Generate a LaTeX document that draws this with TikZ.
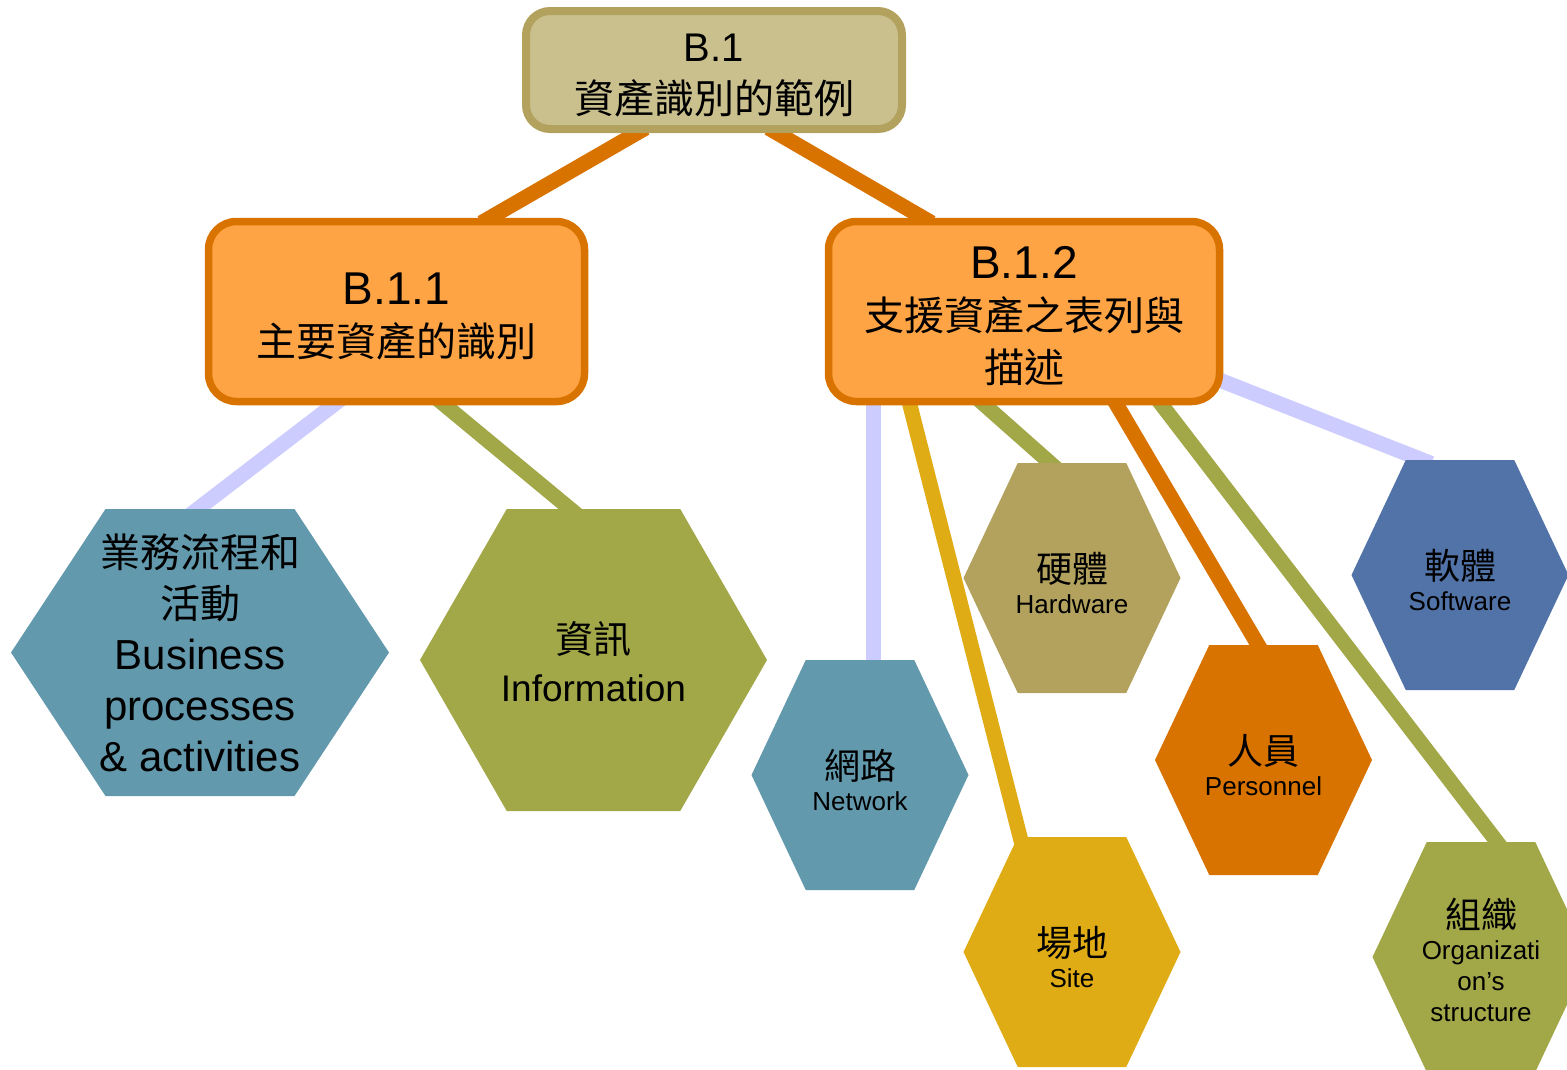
\documentclass[tikz,border=0pt]{standalone}
\usepackage{fontspec}
\setmainfont{Liberation Sans}
\newfontfamily\cjk{Noto Sans CJK TC}
\usepackage{tikz}
\usetikzlibrary{backgrounds,calc}
\definecolor{asRootFill}{HTML}{C9C08E}
\definecolor{asTan}{HTML}{B3A25E}
\definecolor{asBoxFill}{HTML}{FFA444}
\definecolor{asOrange}{HTML}{D97300}
\definecolor{asTeal}{HTML}{6399AC}
\definecolor{asOlive}{HTML}{A2A748}
\definecolor{asGold}{HTML}{E0AC16}
\definecolor{asBlue}{HTML}{5273A8}
\definecolor{asLavender}{HTML}{CCCCFF}
\newcommand{\zh}[2]{{\cjk\fontsize{#1}{#1}\selectfont #2}}
\newcommand{\lift}[1]{\rule{0pt}{#1pt}}
\tikzset{
  as diagram/.style={x=1pt, y=-1pt, text=black},
  as box/.style={draw=asOrange, fill=asBoxFill, line width=7.5pt,
    rounded corners=28pt, align=center, inner sep=0pt,
    minimum width=376pt, minimum height=180pt,
    font=\fontsize{46}{52}\selectfont},
  as root box/.style={as box, draw=asTan, fill=asRootFill, line width=8pt,
    rounded corners=24pt, minimum height=118pt,
    font=\fontsize{40}{52}\selectfont},
  as hex/.style={inner sep=0pt, align=center,
    minimum width=217pt, minimum height=230pt,
    font=\fontsize{26}{31}\selectfont,
    path picture={
      \fill[#1] (path picture bounding box.west)
        -- ($(path picture bounding box.north west)!.25!(path picture bounding box.north east)$)
        -- ($(path picture bounding box.north west)!.75!(path picture bounding box.north east)$)
        -- (path picture bounding box.east)
        -- ($(path picture bounding box.south west)!.75!(path picture bounding box.south east)$)
        -- ($(path picture bounding box.south west)!.25!(path picture bounding box.south east)$)
        -- cycle;}},
  as link/.style={draw=#1, line width=15pt, shorten <=-10pt, shorten >=-10pt}
}

\begin{document}
\begin{tikzpicture}[as diagram]
\useasboundingbox (0,0) rectangle (1567,1069);
\clip (0,0) rectangle (1567,1069);

% boxes
\node[as root box] (b1) at (714,70) {\lift{38}B.1\\\zh{40}{資產識別的範例}};
\node[as box] (b11) at (396.5,311.5) {\lift{41}B.1.1\\\zh{40}{主要資產的識別}};
\node[as box, minimum width=391pt] (b12) at (1024,311.5)
  {\lift{41}B.1.2\\\zh{40}{支援資產之表列與}\\\zh{40}{描述}};

% asset hexagons
\node[as hex=asTeal, minimum width=378pt, minimum height=287pt,
  font=\fontsize{42}{51}\selectfont] (bus) at (200,652.5)
  {\zh{40}{業務流程和}\\\zh{40}{活動}\\Business\\processes\\\& activities};
\node[as hex=asOlive, minimum width=347pt, minimum height=302pt,
  font=\fontsize{37}{48}\selectfont] (info) at (593.5,660)
  {\lift{36}\zh{38}{資訊}\\Information};
\node[as hex=asTeal] (net) at (860,775) {\lift{41}\zh{36}{網路}\\Network};
\node[as hex=asTan] (hw) at (1072,578) {\lift{41}\zh{36}{硬體}\\Hardware};
\node[as hex=asGold] (site) at (1072,952) {\lift{41}\zh{36}{場地}\\Site};
\node[as hex=asOrange] (per) at (1263.5,760) {\lift{41}\zh{36}{人員}\\Personnel};
\node[as hex=asBlue] (sw) at (1460,575) {\lift{41}\zh{36}{軟體}\\Software};
\node[as hex=asOlive] (org) at (1481,957)
  {\lift{36}\zh{36}{組織}\\Organizati\\on’s\\structure};

% connectors
\begin{scope}[on background layer]
\draw[as link=asOrange] ($(b1.south)+(-77,0)$) -- ($(b11.north)+(93.5,0)$);
\draw[as link=asOrange] ($(b1.south)+(63,0)$) -- ($(b12.north)+(-101,0)$);
\draw[as link=asLavender] ($(b11.south)+(-63.5,0)$) -- ($(bus.north)+(-2,0)$);
\draw[as link=asOlive] ($(b11.south)+(48.5,0)$) -- ($(info.north)+(-23.5,0)$);
\draw[as link=asLavender] ($(b12.south)+(-151,0)$) -- ($(net.north)+(13,0)$);
\draw[as link=asGold] ($(b12.south)+(-114,0)$) -- ($(site.north)+(-52,0)$);
\draw[as link=asOlive] ($(b12.south)+(-39,0)$) -- ($(hw.north)+(-22,0)$);
\draw[as link=asOrange] ($(b12.south)+(93,0)$) -- ($(per.north)+(-5.5,0)$);
\draw[as link=asOlive] ($(b12.south)+(138,0)$) -- ($(org.north)+(16,0)$);
\draw[as link=asLavender] ($(b12.east)+(0,70)$) -- ($(sw.north)+(-38,0)$);
\end{scope}
\end{tikzpicture}
\end{document}
